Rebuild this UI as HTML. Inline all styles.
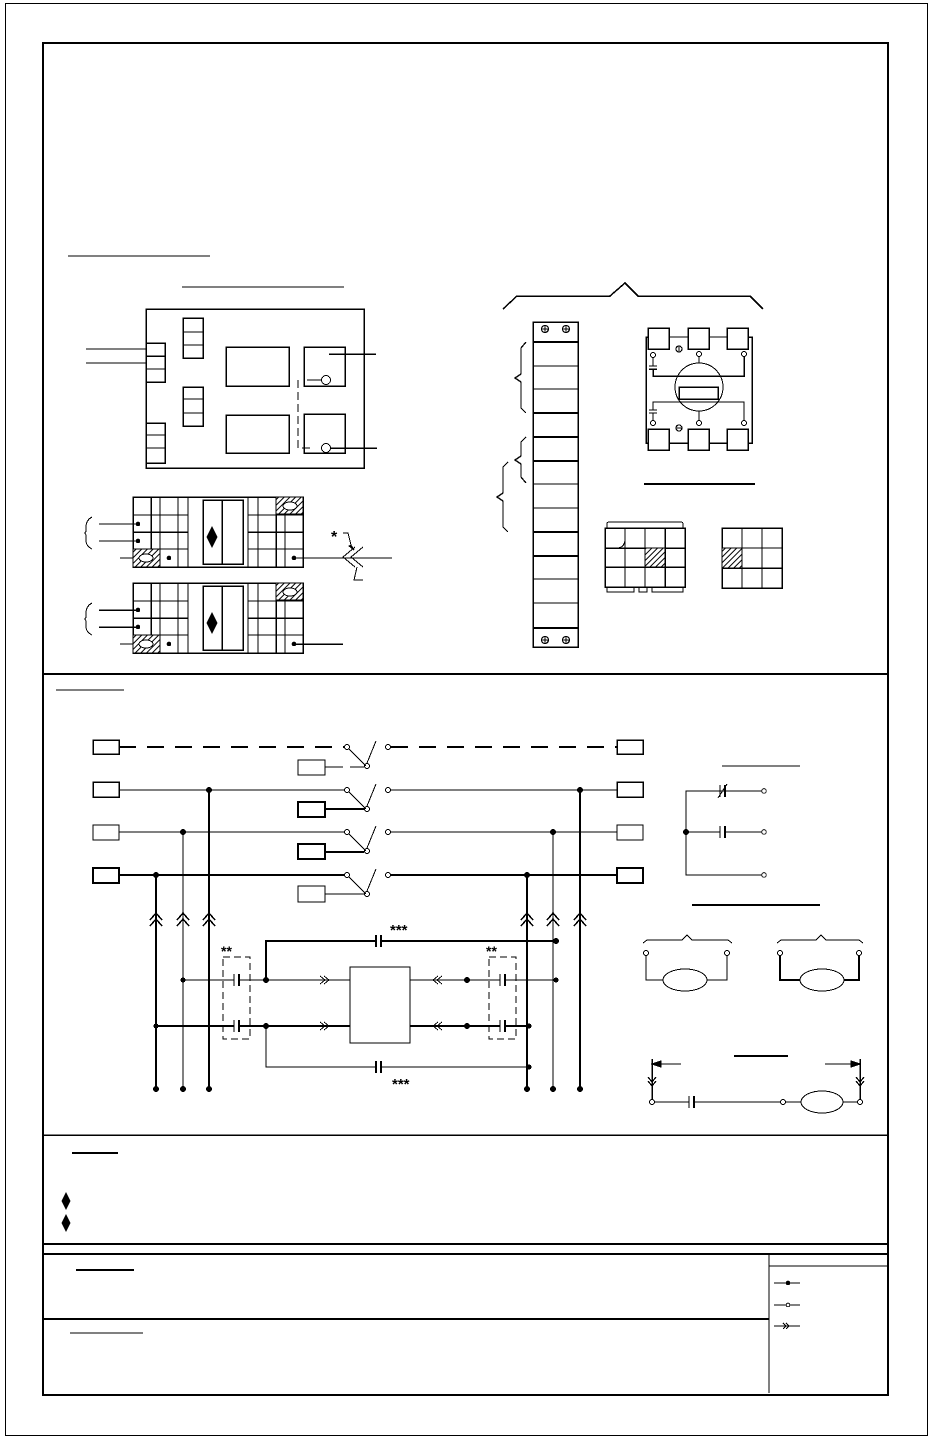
<!DOCTYPE html>
<html><head><meta charset="utf-8"><style>html,body{margin:0;padding:0;background:#fff}svg{display:block}</style></head>
<body>
<svg width="932" height="1439" viewBox="0 0 932 1439" xmlns="http://www.w3.org/2000/svg" font-family="Liberation Sans, sans-serif">
<defs>
<pattern id="h" width="4" height="4" patternUnits="userSpaceOnUse" patternTransform="rotate(45)"><rect width="4" height="4" fill="#fff"/><line x1="0" y1="0" x2="0" y2="4" stroke="#000" stroke-width="2"/></pattern>
</defs>
<g fill="none" stroke="#000" stroke-width="1" shape-rendering="crispEdges">
<!-- frames -->
<rect x="5.5" y="3.5" width="922" height="1432"/>
<rect x="43" y="43" width="845" height="1352" stroke-width="2"/>
<line x1="43" y1="674" x2="888" y2="674" stroke-width="2"/>
<line x1="43" y1="1135" x2="888" y2="1135" stroke-width="1.5"/>
<line x1="43" y1="1244" x2="888" y2="1244" stroke-width="2"/>
<line x1="43" y1="1254" x2="888" y2="1254" stroke-width="2"/>
<line x1="43" y1="1319" x2="769" y2="1319" stroke-width="2"/>
<line x1="769" y1="1254" x2="769" y2="1393"/>
<line x1="769" y1="1266" x2="888" y2="1266"/>

<!-- top underlines -->
<line x1="68" y1="256" x2="210" y2="256"/>
<line x1="182" y1="287" x2="344" y2="287"/>

<!-- board -->
<rect x="146" y="309" width="218" height="159" stroke-width="1.5"/>
<rect x="146" y="343" width="19" height="39" stroke-width="1.5"/>
<line x1="146" y1="356" x2="165" y2="356" stroke-width="1.5"/><line x1="146" y1="369" x2="165" y2="369"/>
<line x1="86" y1="349" x2="146" y2="349"/><line x1="86" y1="363" x2="146" y2="363"/>
<rect x="146" y="423" width="19" height="40" stroke-width="1.5"/>
<line x1="146" y1="435" x2="165" y2="435"/><line x1="146" y1="448" x2="165" y2="448"/>
<rect x="183" y="318" width="20" height="40" stroke-width="1.5"/>
<line x1="183" y1="332" x2="203" y2="332"/><line x1="183" y1="345" x2="203" y2="345"/>
<rect x="183" y="387" width="20" height="39" stroke-width="1.5"/>
<line x1="183" y1="399" x2="203" y2="399"/><line x1="183" y1="413" x2="203" y2="413"/>
<rect x="226" y="347" width="63" height="39" stroke-width="1.5"/>
<rect x="226" y="415" width="63" height="38" stroke-width="1.5"/>
<rect x="304" y="347" width="41" height="39" stroke-width="1.5"/>
<rect x="304" y="414" width="41" height="39" stroke-width="1.5"/>
<circle cx="326" cy="380" r="4.5"/><circle cx="326" cy="448" r="4.5"/>
<line x1="307" y1="380" x2="321" y2="380"/>
<line x1="329" y1="354" x2="376" y2="354" stroke-width="1.5"/>
<line x1="331" y1="448" x2="377" y2="448" stroke-width="1.5"/>
<polyline points="298,380 298,448 310,448" stroke-dasharray="8,4"/>

<!-- terminal block 1 & 2 -->
<g id="tb">
<rect x="133" y="497" width="170" height="70" stroke-width="1.5"/>
<line x1="133" y1="515" x2="188" y2="515"/><line x1="133" y1="532" x2="188" y2="532" stroke-width="1.5"/><line x1="133" y1="549" x2="188" y2="549"/>
<line x1="248" y1="515" x2="303" y2="515"/><line x1="248" y1="532" x2="303" y2="532" stroke-width="1.5"/><line x1="248" y1="549" x2="303" y2="549"/>
<line x1="151" y1="497" x2="151" y2="549" stroke-width="1.5"/><line x1="160" y1="497" x2="160" y2="567"/><line x1="178" y1="497" x2="178" y2="567"/><line x1="188" y1="497" x2="188" y2="567"/>
<line x1="248" y1="497" x2="248" y2="567"/><line x1="258" y1="497" x2="258" y2="567"/><line x1="276" y1="514" x2="276" y2="567" stroke-width="1.5"/><line x1="285" y1="514" x2="285" y2="567"/>
<rect x="203" y="500" width="40" height="64" stroke-width="1.5"/>
<line x1="222" y1="500" x2="222" y2="564" stroke-width="1.5"/>
<polygon points="212,527 217,537 212,547 207,537" fill="#000"/>
<rect x="276" y="497" width="27" height="17" fill="url(#h)"/>
<ellipse cx="290" cy="506" rx="7" ry="4" fill="#fff"/>
<rect x="133" y="549" width="27" height="18" fill="url(#h)"/>
<ellipse cx="146" cy="558" rx="7" ry="4" fill="#fff"/>
<circle cx="138" cy="524" r="1.8" fill="#000"/><circle cx="138" cy="541" r="1.8" fill="#000"/>
<circle cx="169" cy="558" r="1.8" fill="#000"/><circle cx="294" cy="558" r="1.8" fill="#000"/>
<line x1="99" y1="524" x2="138" y2="524"/><line x1="99" y1="541" x2="138" y2="541"/>
<line x1="120" y1="558" x2="133" y2="558"/>
<path d="M92,517 Q86,520 86,527 L86,530 Q86,533 84,533 Q86,533 86,536 L86,541 Q86,546 92,549"/>
</g>
<use href="#tb" transform="translate(0,86)"/>
<line x1="294" y1="558" x2="392" y2="558"/>
<polyline points="355,547 343,557 355,567"/><polyline points="363,547 351,557 363,567"/>
<polyline points="343,533 348,533 352,549" /><polygon points="349,546 354,550 351,545" fill="#000"/>
<polyline points="363,580 354,580 357,567"/>
<text x="331" y="542" font-size="16" fill="#000" stroke="none" font-weight="bold">*</text>
<line x1="294" y1="644" x2="343" y2="644" stroke-width="1.5"/>
<line x1="99" y1="610" x2="138" y2="610" stroke-width="1.5"/><line x1="99" y1="627" x2="138" y2="627" stroke-width="1.5"/>

<!-- right top brace -->
<polyline points="503,309 517,296 610,296 625,283 638,296 750,296 763,309" stroke-width="1.5"/>
<!-- strip -->
<rect x="533" y="322" width="45" height="325" stroke-width="1.5"/>
<g stroke-width="1">
<line x1="533" y1="366" x2="578" y2="366"/><line x1="533" y1="389" x2="578" y2="389"/>
<line x1="533" y1="484" x2="578" y2="484"/><line x1="533" y1="508" x2="578" y2="508"/>
<line x1="533" y1="579" x2="578" y2="579"/><line x1="533" y1="603" x2="578" y2="603"/>
</g>
<g stroke-width="2">
<line x1="533" y1="342" x2="578" y2="342"/><line x1="533" y1="413" x2="578" y2="413"/>
<line x1="533" y1="437" x2="578" y2="437"/><line x1="533" y1="461" x2="578" y2="461"/>
<line x1="533" y1="532" x2="578" y2="532"/><line x1="533" y1="556" x2="578" y2="556"/>
<line x1="533" y1="628" x2="578" y2="628"/>
</g>
<g stroke-width="1.2">
<circle cx="545" cy="329" r="3.5"/><circle cx="566" cy="329" r="3.5"/>
<circle cx="545" cy="640" r="3.5"/><circle cx="566" cy="640" r="3.5"/>
<line x1="545" y1="325" x2="545" y2="333"/><line x1="541" y1="329" x2="549" y2="329"/>
<line x1="566" y1="325" x2="566" y2="333"/><line x1="562" y1="329" x2="570" y2="329"/>
<line x1="545" y1="636" x2="545" y2="644"/><line x1="541" y1="640" x2="549" y2="640"/>
<line x1="566" y1="636" x2="566" y2="644"/><line x1="562" y1="640" x2="570" y2="640"/>
</g>
<path d="M526,342 L521,348 L521,374 L515,378 L521,382 L521,408 L526,413" stroke-width="1.3"/>
<path d="M526,437 L521,442 L521,456 L515,460 L521,464 L521,477 L526,483" stroke-width="1.3"/>
<path d="M508,462 L503,467 L503,493 L497,497 L503,501 L503,527 L508,532" stroke-width="1.3"/>

<!-- relay -->
<polyline points="648,337 646,337 646,443 648,443" stroke-width="1.5"/>
<polyline points="748,337 752,337 752,443 748,443" stroke-width="1.5"/>
<rect x="648" y="328" width="21" height="21" stroke-width="1.5"/>
<rect x="688" y="328" width="21" height="21" stroke-width="1.5"/>
<rect x="727" y="328" width="21" height="21" stroke-width="1.5"/>
<rect x="648" y="429" width="21" height="21" stroke-width="1.5"/>
<rect x="688" y="429" width="21" height="21" stroke-width="1.5"/>
<rect x="727" y="429" width="21" height="21" stroke-width="1.5"/>
<line x1="669" y1="337" x2="688" y2="337"/><line x1="709" y1="337" x2="727" y2="337"/>
<line x1="669" y1="443" x2="688" y2="443" stroke-width="1.5"/><line x1="709" y1="443" x2="727" y2="443" stroke-width="1.5"/>
<circle cx="699" cy="387" r="24"/>
<rect x="679" y="387" width="39" height="12" stroke-width="1.5"/>
<circle cx="653" cy="355" r="2.5"/><circle cx="699" cy="354" r="2.5"/><circle cx="744" cy="354" r="2.5"/>
<circle cx="653" cy="423" r="2.5"/><circle cx="699" cy="423" r="2.5"/><circle cx="744" cy="423" r="2.5"/>
<circle cx="679" cy="349" r="3" stroke-width="1.2"/><line x1="679" y1="346" x2="679" y2="352"/>
<circle cx="679" cy="428" r="3" stroke-width="1.2"/><line x1="676" y1="428" x2="682" y2="428"/>
<polyline points="653,358 653,366"/><line x1="649" y1="366" x2="657" y2="366"/><line x1="649" y1="369" x2="657" y2="369" stroke-width="1.5"/>
<polyline points="653,369 653,376 744,376 744,357" stroke-width="1.5"/>
<line x1="699" y1="357" x2="699" y2="363"/>
<polyline points="653,420 653,413"/><line x1="649" y1="413" x2="657" y2="413"/><line x1="649" y1="410" x2="657" y2="410"/>
<polyline points="653,410 653,402 744,402 744,420"/>
<line x1="699" y1="411" x2="699" y2="420"/>
<line x1="644" y1="484" x2="755" y2="484" stroke-width="2"/>

<!-- grids -->
<rect x="605" y="528" width="80" height="59" stroke-width="1.5"/>
<line x1="625" y1="528" x2="625" y2="587"/><line x1="645" y1="528" x2="645" y2="587"/><line x1="665" y1="528" x2="665" y2="587" stroke-width="1.5"/>
<line x1="605" y1="548" x2="685" y2="548" stroke-width="1.5"/><line x1="605" y1="567" x2="685" y2="567" stroke-width="1.5"/>
<rect x="645" y="548" width="20" height="19" fill="url(#h)"/>
<path d="M607,528 L607,524 Q607,522 609,522 L681,522 Q683,522 683,524 L683,528"/>
<path d="M625,539 Q625,547 618,548"/>
<path d="M607,587 L607,592 L634,592 L634,587 M639,587 L639,592 L647,592 L647,587 M652,587 L652,592 L683,592 L683,587" stroke-width="1.3"/>
<rect x="722" y="528" width="60" height="60" stroke-width="1.5"/>
<line x1="742" y1="528" x2="742" y2="588"/><line x1="762" y1="528" x2="762" y2="588"/>
<line x1="722" y1="548" x2="782" y2="548"/><line x1="722" y1="568" x2="782" y2="568" stroke-width="1.5"/>
<rect x="722" y="548" width="20" height="20" fill="url(#h)"/>

<!-- middle section -->
<line x1="56" y1="690" x2="124" y2="690"/>
<rect x="93" y="740" width="26" height="14" stroke-width="1.5"/>
<rect x="93" y="782" width="26" height="15" stroke-width="1.5"/>
<rect x="93" y="825" width="26" height="15" stroke-width="1.2"/>
<rect x="93" y="868" width="26" height="15" stroke-width="2"/>
<rect x="617" y="740" width="26" height="14" stroke-width="1.5"/>
<rect x="617" y="782" width="26" height="15" stroke-width="1.5"/>
<rect x="617" y="825" width="26" height="15" stroke-width="1.2"/>
<rect x="617" y="868" width="26" height="15" stroke-width="2"/>
<line x1="119" y1="747" x2="344" y2="747" stroke-width="2" stroke-dasharray="17,11"/>
<line x1="391" y1="747" x2="617" y2="747" stroke-width="2" stroke-dasharray="17,11"/>
<line x1="119" y1="790" x2="344" y2="790"/><line x1="391" y1="790" x2="617" y2="790"/>
<line x1="119" y1="832" x2="344" y2="832"/><line x1="391" y1="832" x2="617" y2="832"/>
<line x1="119" y1="875" x2="344" y2="875" stroke-width="2"/><line x1="391" y1="875" x2="617" y2="875" stroke-width="2"/>
<g id="sw">
<circle cx="347" cy="747" r="2.5"/><circle cx="388" cy="747" r="2.5"/>
<line x1="349" y1="749" x2="366" y2="766"/><line x1="367" y1="763" x2="376" y2="741"/>
<circle cx="367" cy="766" r="2.5"/>
</g>
<use href="#sw" transform="translate(0,43)"/>
<use href="#sw" transform="translate(0,85)"/>
<use href="#sw" transform="translate(0,128)"/>
<rect x="298" y="760" width="27" height="15"/>
<line x1="325" y1="767" x2="343" y2="767"/><line x1="350" y1="767" x2="364" y2="767"/>
<rect x="298" y="802" width="27" height="15" stroke-width="2"/><line x1="325" y1="809" x2="364" y2="809" stroke-width="2"/>
<rect x="298" y="844" width="27" height="15" stroke-width="2"/><line x1="325" y1="852" x2="364" y2="852" stroke-width="2"/>
<rect x="298" y="886" width="27" height="16"/><line x1="325" y1="894" x2="364" y2="894"/>

<!-- verticals -->
<line x1="156" y1="875" x2="156" y2="1089" stroke-width="2"/>
<line x1="183" y1="832" x2="183" y2="1089"/>
<line x1="209" y1="790" x2="209" y2="1089" stroke-width="2"/>
<line x1="527" y1="875" x2="527" y2="1089" stroke-width="2"/>
<line x1="553" y1="832" x2="553" y2="1089"/>
<line x1="580" y1="790" x2="580" y2="1089" stroke-width="2"/>
<g fill="#000" stroke="none">
<circle cx="156" cy="875" r="3"/><circle cx="183" cy="832" r="3"/><circle cx="209" cy="790" r="3"/>
<circle cx="527" cy="875" r="3"/><circle cx="553" cy="832" r="3"/><circle cx="580" cy="790" r="3"/>
<circle cx="156" cy="1089" r="3"/><circle cx="183" cy="1089" r="3"/><circle cx="209" cy="1089" r="3"/>
<circle cx="527" cy="1089" r="3"/><circle cx="553" cy="1089" r="3"/><circle cx="580" cy="1089" r="3"/>
<circle cx="183" cy="980" r="2.5"/><circle cx="156" cy="1026" r="2.5"/>
<circle cx="266" cy="980" r="3"/><circle cx="266" cy="1026" r="3"/>
<circle cx="467" cy="980" r="3"/><circle cx="467" cy="1026" r="3"/>
<circle cx="556" cy="941" r="3"/><circle cx="556" cy="980" r="2.5"/>
<circle cx="529" cy="1026" r="2.5"/><circle cx="529" cy="1067" r="2.5"/>
</g>
<g id="up" stroke-width="1.5">
<polyline points="150,920 156,913 162,920"/><polyline points="150,926 156,919 162,926"/>
</g>
<use href="#up" transform="translate(27,0)"/><use href="#up" transform="translate(53,0)"/>
<use href="#up" transform="translate(371,0)"/><use href="#up" transform="translate(397,0)"/><use href="#up" transform="translate(424,0)"/>

<!-- control network -->
<polyline points="266,980 266,941 376,941" stroke-width="2"/>
<line x1="381" y1="941" x2="556" y2="941" stroke-width="2"/>
<line x1="376" y1="935" x2="376" y2="947" stroke-width="2"/><line x1="381" y1="935" x2="381" y2="947" stroke-width="2"/>
<text x="390" y="935" font-size="15" font-weight="bold" fill="#000" stroke="none">***</text>
<line x1="183" y1="980" x2="234" y2="980"/><line x1="239" y1="980" x2="350" y2="980"/>
<line x1="234" y1="974" x2="234" y2="986"/><line x1="239" y1="974" x2="239" y2="986" stroke-width="2"/>
<line x1="156" y1="1026" x2="234" y2="1026" stroke-width="2"/><line x1="239" y1="1026" x2="350" y2="1026" stroke-width="2"/>
<line x1="234" y1="1020" x2="234" y2="1032"/><line x1="239" y1="1020" x2="239" y2="1032" stroke-width="2"/>
<polyline points="320,976 325,980 320,984"/><polyline points="324,976 329,980 324,984"/>
<polyline points="320,1022 325,1026 320,1030"/><polyline points="324,1022 329,1026 324,1030"/>
<rect x="350" y="967" width="60" height="76"/>
<line x1="410" y1="980" x2="500" y2="980"/><line x1="505" y1="980" x2="556" y2="980"/>
<line x1="500" y1="974" x2="500" y2="986"/><line x1="505" y1="974" x2="505" y2="986" stroke-width="2"/>
<line x1="410" y1="1026" x2="500" y2="1026" stroke-width="2"/><line x1="505" y1="1026" x2="529" y2="1026" stroke-width="2"/>
<line x1="500" y1="1020" x2="500" y2="1032"/><line x1="505" y1="1020" x2="505" y2="1032" stroke-width="2"/>
<polyline points="438,976 433,980 438,984"/><polyline points="442,976 437,980 442,984"/>
<polyline points="438,1022 433,1026 438,1030"/><polyline points="442,1022 437,1026 442,1030"/>
<rect x="223" y="957" width="27" height="82" stroke-dasharray="7,4" stroke-width="1.3"/>
<rect x="489" y="957" width="27" height="82" stroke-dasharray="7,4" stroke-width="1.3"/>
<text x="221" y="956" font-size="14" font-weight="bold" fill="#000" stroke="none">**</text>
<text x="486" y="956" font-size="14" font-weight="bold" fill="#000" stroke="none">**</text>
<polyline points="266,1026 266,1067 376,1067"/><line x1="381" y1="1067" x2="529" y2="1067"/>
<line x1="376" y1="1061" x2="376" y2="1073" stroke-width="2"/><line x1="381" y1="1061" x2="381" y2="1073" stroke-width="2"/>
<text x="392" y="1089" font-size="15" font-weight="bold" fill="#000" stroke="none">***</text>

<!-- right circuits -->
<line x1="722" y1="766" x2="800" y2="766"/>
<polyline points="763,791 686,791 686,875 763,875" stroke-width="1.3"/>
<line x1="686" y1="832" x2="720" y2="832"/><line x1="725" y1="832" x2="763" y2="832"/>
<line x1="720" y1="826" x2="720" y2="838"/><line x1="725" y1="826" x2="725" y2="838" stroke-width="2"/>
<line x1="720" y1="785" x2="720" y2="797"/><line x1="725" y1="785" x2="725" y2="797" stroke-width="2"/><line x1="718" y1="798" x2="727" y2="784"/>
<circle cx="686" cy="832" r="2.5" fill="#000"/>
<circle cx="764" cy="791" r="2.3" fill="#fff"/><circle cx="764" cy="832" r="2.3" fill="#fff"/><circle cx="764" cy="875" r="2.3" fill="#fff"/>
<line x1="692" y1="905" x2="820" y2="905" stroke-width="2"/>
<polyline points="643,943 647,940 682,940 687,935 692,940 728,940 732,943"/>
<polyline points="777,943 781,940 816,940 821,935 826,940 859,940 863,943"/>
<polyline points="646,955 646,980 663,980" stroke-width="1.3"/><polyline points="707,980 727,980 727,955" stroke-width="1.3"/>
<ellipse cx="685" cy="980" rx="22" ry="11"/>
<polyline points="780,955 780,980 800,980" stroke-width="2"/><polyline points="844,980 859,980 859,955" stroke-width="2"/>
<ellipse cx="822" cy="980" rx="22" ry="11"/>
<circle cx="646" cy="953" r="2.5" fill="#fff"/><circle cx="727" cy="953" r="2.5" fill="#fff"/>
<circle cx="780" cy="953" r="2.5" fill="#fff"/><circle cx="859" cy="953" r="2.5" fill="#fff"/>
<line x1="734" y1="1056" x2="788" y2="1056" stroke-width="2"/>
<line x1="652" y1="1059" x2="652" y2="1099" stroke-width="1.5"/><line x1="652" y1="1064" x2="681" y2="1064"/>
<polygon points="652,1064 661,1061 661,1067" fill="#000"/>
<line x1="860" y1="1059" x2="860" y2="1099" stroke-width="1.5"/><line x1="825" y1="1064" x2="860" y2="1064"/>
<polygon points="860,1064 851,1061 851,1067" fill="#000"/>
<polyline points="648,1077 652,1082 656,1077" stroke-width="1.3"/><polyline points="648,1081 652,1086 656,1081" stroke-width="1.3"/>
<polyline points="856,1077 860,1082 864,1077" stroke-width="1.3"/><polyline points="856,1081 860,1086 864,1081" stroke-width="1.3"/>
<line x1="652" y1="1102" x2="689" y2="1102"/><line x1="694" y1="1102" x2="783" y2="1102"/>
<line x1="689" y1="1096" x2="689" y2="1108"/><line x1="694" y1="1096" x2="694" y2="1108" stroke-width="2"/>
<line x1="783" y1="1102" x2="801" y2="1102"/><ellipse cx="822" cy="1102" rx="21" ry="11"/><line x1="843" y1="1102" x2="860" y2="1102"/>
<circle cx="652" cy="1102" r="2.5" fill="#fff"/><circle cx="783" cy="1102" r="2.5" fill="#fff"/><circle cx="860" cy="1102" r="2.5" fill="#fff"/>

<!-- notes -->
<line x1="72" y1="1153" x2="118" y2="1153" stroke-width="2"/>
<polygon points="66,1193 70,1201 66,1209 62,1201" fill="#000"/>
<polygon points="66,1215 70,1223 66,1231 62,1223" fill="#000"/>
<line x1="76" y1="1270" x2="134" y2="1270" stroke-width="2"/>
<line x1="70" y1="1333" x2="143" y2="1333"/>
<line x1="774" y1="1283" x2="800" y2="1283"/><circle cx="788" cy="1283" r="1.8" fill="#000"/>
<line x1="774" y1="1305" x2="800" y2="1305"/><circle cx="788" cy="1305" r="1.8" fill="#fff"/>
<line x1="774" y1="1326" x2="800" y2="1326"/>
<polyline points="783,1323 786,1326 783,1329"/><polyline points="786,1323 789,1326 786,1329"/>
</g>
</svg>
</body></html>
